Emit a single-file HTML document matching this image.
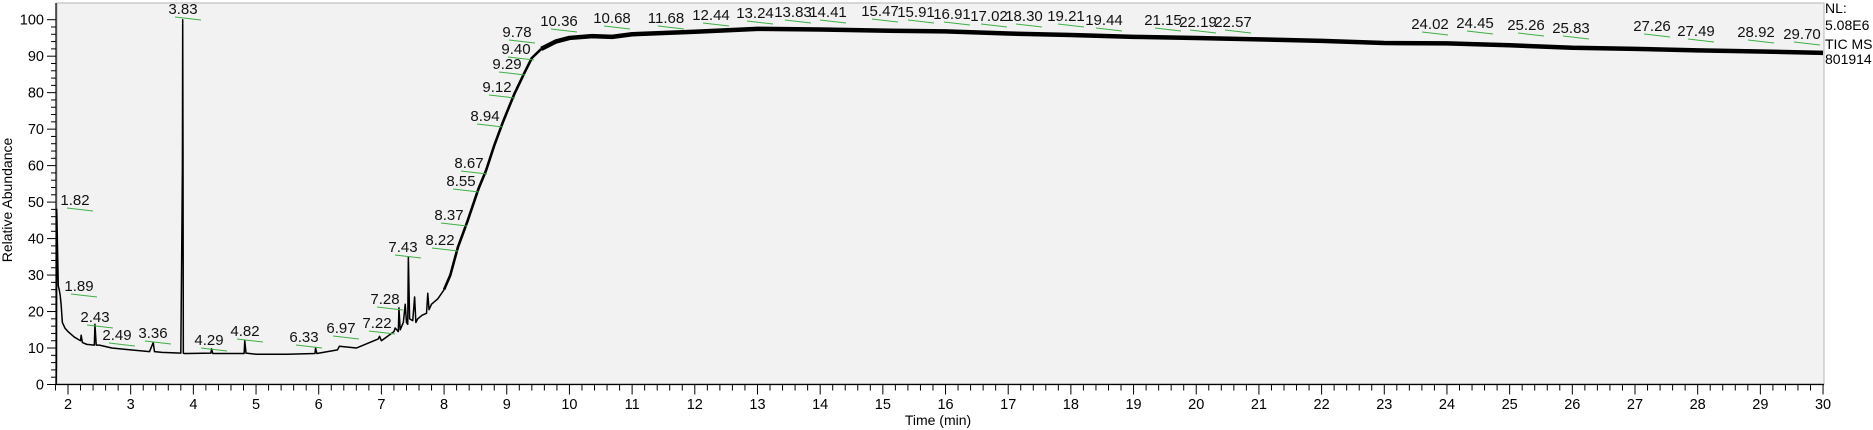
<!DOCTYPE html>
<html><head><meta charset="utf-8"><style>
html,body{margin:0;padding:0;background:#fff;}
svg{display:block;font-family:"Liberation Sans",Arial,sans-serif;}
</style></head><body>
<svg id="chart" width="1873" height="430" viewBox="0 0 1873 430">
<rect x="57" y="3" width="1767" height="381" fill="#f2f2f2" stroke="#c0c0c0" stroke-width="1.2"/>
<g id="axes"></g>
<g id="trace"></g>
<g id="labels" font-size="15" fill="#111"></g>
<text x="12" y="200" font-size="14" text-anchor="middle" transform="rotate(-90 12 200)">Relative Abundance</text>
<text x="938" y="425" font-size="14" text-anchor="middle">Time (min)</text>
<text x="1825" y="13" font-size="14">NL:</text>
<text x="1825" y="30" font-size="14">5.08E6</text>
<text x="1825" y="49" font-size="14">TIC  MS</text>
<text x="1825" y="64" font-size="14">801914</text>
</svg>
<script>
const times = [1.81,1.815,1.82,1.83,1.845,1.86,1.875,1.89,1.91,1.95,2.0,2.1,2.2,2.21,2.23,2.3,2.42,2.43,2.45,2.5,2.7,3.0,3.3,3.36,3.38,3.5,3.8,3.815,3.825,3.83,3.835,3.84,3.85,3.9,4.28,4.29,4.31,4.6,4.81,4.82,4.84,5.0,5.5,5.94,5.95,5.97,6.3,6.33,6.6,6.95,6.97,7.0,7.2,7.22,7.27,7.28,7.3,7.35,7.38,7.4,7.42,7.43,7.45,7.5,7.53,7.55,7.58,7.65,7.72,7.74,7.76,7.8,7.9,8.0,8.1,8.22,8.37,8.55,8.67,8.8,8.94,9.12,9.29,9.4,9.55,9.78,10.0,10.36,10.68,11.0,12.0,13.0,14.0,15.0,16.0,17.0,18.0,19.0,20.0,21.0,22.0,23.0,24.0,25.0,26.0,27.0,28.0,29.0,30.0];
const values = [0,5,48,40,27,26,24.5,22,17,15.5,14.5,13,12,13.5,11.5,11,10.8,16.5,10.8,10.8,10,9.5,9,11.5,9,8.8,8.6,38,60,100,64,8.6,8.5,8.5,8.6,9.8,8.5,8.5,8.5,12,8.6,8.3,8.3,8.5,10,8.5,9.5,10.5,10,12.5,13.2,12,14.5,15.5,14.5,21,15,17,22,17,16.5,35,18,17.5,24,17,18,19,19.5,25,20.5,22,23.5,26,30,37.6,44.6,53.7,58.7,65.5,72,79.6,85.7,89.5,92,94,95,95.5,95.3,96,96.7,97.5,97.3,97,96.8,96.2,95.8,95.3,95,94.6,94.2,93.6,93.5,93,92.3,92,91.6,91.3,90.9];
const yTicks = [0,10,20,30,40,50,60,70,80,90,100];
const xTicks = [2,3,4,5,6,7,8,9,10,11,12,13,14,15,16,17,18,19,20,21,22,23,24,25,26,27,28,29,30];
const peakLabels = ["3.83","1.82","1.89","2.43","2.49","3.36","4.29","4.82","6.33","6.97","7.22","7.28","7.43","8.22","8.37","8.55","8.67","8.94","9.12","9.29","9.40","9.78","10.36","10.68","11.68","12.44","13.24","13.83","14.41","15.47","15.91","16.91","17.02","18.30","19.21","19.44","21.15","22.19","22.57","24.02","24.45","25.26","25.83","27.26","27.49","28.92","29.70"];
const labelX = [183,75,79,95,117,153,209,245,304,341,377,385,403,440,449,461,469,485,497,507,516,517,559,612,666,711,755,793,828,880,916,952,989,1024,1066,1104,1163,1198,1233,1430,1475,1526,1571,1652,1696,1756,1802];
const labelY = [14,205,291,322,340,338,345,336,342,333,328,304,252,245,220,186,168,121,92,69,54,37,26,23,23,20,18,17,17,16,17,19,21,21,21,25,25,27,27,29,28,30,33,31,36,37,39];

const NS="http://www.w3.org/2000/svg";
const X0=56, PX=62.68, Y0=384.5, PY=3.648;
function xs(t){return 68+(t-2)*PX;}
function ys(v){return Y0-v*PY;}
function mk(tag,attrs,parent){const e=document.createElementNS(NS,tag);for(const k in attrs)e.setAttribute(k,attrs[k]);parent.appendChild(e);return e;}

const axes=document.getElementById('axes');
const yl=mk('line',{x1:X0,y1:3,x2:X0,y2:Y0,stroke:'#000','stroke-width':1.2},axes);


const xl=mk('line',{x1:X0,y1:Y0,x2:1824,y2:Y0,stroke:'#000','stroke-width':1.2},axes);


for(let v=0;v<=100;v+=2){
  const major=v%10===0;
  mk('line',{x1:X0-(major?9:5),y1:ys(v),x2:X0,y2:ys(v),stroke:'#000','stroke-width':1},axes);
}
yTicks.forEach(v=>{
  const t=mk('text',{x:X0-12,y:ys(v)+5,'font-size':14.5,'text-anchor':'end'},axes);
  t.textContent=v;
  
  
});
for(let i=0;;i++){
  const t=1.8+i*0.2; if(t>30.001)break;
  const major=Math.abs(t-Math.round(t))<0.01;
  mk('line',{x1:xs(t),y1:Y0,x2:xs(t),y2:Y0+(major?10:6),stroke:'#000','stroke-width':1},axes);
}
xTicks.forEach(v=>{
  const t=mk('text',{x:xs(v),y:409,'font-size':14.5,'text-anchor':'middle'},axes);
  t.textContent=v;
  
  
});

const tr=document.getElementById('trace');
function pathFor(a,b){let d='';for(let i=a;i<=b;i++){d+=(i===a?'M':'L')+xs(times[i]).toFixed(2)+' '+ys(values[i]).toFixed(2);}return d;}
const split1=times.findIndex(t=>t>=8.0), split2=times.findIndex(t=>t>=9.55);
const p1=mk('path',{d:pathFor(0,split1),fill:'none',stroke:'#000','stroke-width':1.5,'stroke-linejoin':'round'},tr);


const p2=mk('path',{d:pathFor(split1,split2),fill:'none',stroke:'#000','stroke-width':2.6,'stroke-linejoin':'round'},tr);


const p3=mk('path',{d:pathFor(split2,times.length-1),fill:'none',stroke:'#000','stroke-width':4.5,'stroke-linejoin':'round'},tr);



const lg=document.getElementById('labels');
peakLabels.forEach((s,i)=>{
  const g=mk('line',{x1:labelX[i]-8,y1:labelY[i]+3,x2:labelX[i]+18,y2:labelY[i]+6,stroke:'#3cb043','stroke-width':1},lg);
  
  
  const t=mk('text',{x:labelX[i],y:labelY[i],'text-anchor':'middle'},lg);
  t.textContent=s;
  
  
});
</script>
</body></html>
